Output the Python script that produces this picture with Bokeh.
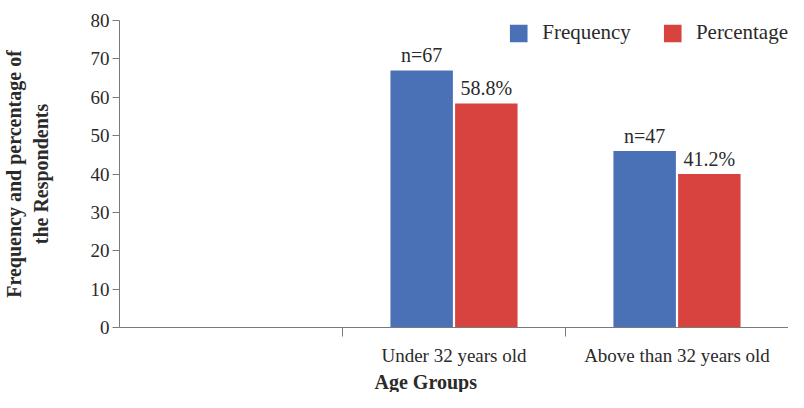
from bokeh.plotting import figure
from bokeh.models import (ColumnDataSource, FixedTicker, LabelSet, Legend,
                          LegendItem, Title, Range1d)
from bokeh.transform import dodge
from bokeh.embed import file_html
from bokeh.resources import INLINE

# ---- data ----
categories = ["", "Under 32 years old", "Above than 32 years old"]
groups = ["Under 32 years old", "Above than 32 years old"]
frequency = [67, 46]
percentage = [58.4, 40]
frequency_labels = ["n=67", "n=47"]
percentage_labels = ["58.8%", "41.2%"]
y_ticks = [0, 10, 20, 30, 40, 50, 60, 70, 80]
series_names = ["Frequency", "Percentage"]
y_title = "Frequency and percentage of\nthe Respondents"
x_title = "Age Groups"

FONT = "Liberation Serif"
BLUE = "#4a70b6"
RED = "#d8423f"
TXT = "#2a2a2a"
AXC = "#7a7a7a"

centers = [categories.index(g) + 0.5 for g in groups]
src = ColumnDataSource(dict(x=centers, freq=frequency, pct=percentage,
                            flab=frequency_labels, plab=percentage_labels))

p = figure(width=788, height=392, x_range=Range1d(0, len(categories)),
           y_range=Range1d(y_ticks[0], y_ticks[-1]),
           output_backend="svg", toolbar_location=None,
           min_border_left=118, min_border_right=0,
           min_border_top=20, min_border_bottom=0)
p.outline_line_color = None
p.xgrid.visible = False
p.ygrid.visible = False
p.background_fill_color = "white"

bw = 0.28
off = 0.145
r1 = p.vbar(x=dodge("x", -off, range=p.x_range), top="freq", width=bw,
            source=src, fill_color=BLUE, line_color=None)
r2 = p.vbar(x=dodge("x", off, range=p.x_range), top="pct", width=bw,
            source=src, fill_color=RED, line_color=None)

p.add_layout(LabelSet(x=dodge("x", -off, range=p.x_range), y="freq", text="flab",
                      source=src, text_align="center", text_baseline="bottom",
                      y_offset=4, text_font=FONT, text_font_size="20px",
                      text_color=TXT))
p.add_layout(LabelSet(x=dodge("x", off, range=p.x_range), y="pct", text="plab",
                      source=src, text_align="center", text_baseline="bottom",
                      y_offset=4, text_font=FONT, text_font_size="20px",
                      text_color=TXT))

# axes
xa = p.xaxis[0]
xa.ticker = FixedTicker(ticks=centers,
                        minor_ticks=[float(i) for i in range(1, len(categories) + 1)])
xa.major_label_overrides = {c: g for c, g in zip(centers, groups)}
xa.major_tick_out = 0
xa.major_tick_in = 0
xa.minor_tick_out = 9
xa.minor_tick_in = 0
xa.minor_tick_line_color = AXC
xa.axis_line_color = AXC
xa.major_label_standoff = 8
xa.major_label_text_font = FONT
xa.major_label_text_font_size = "19px"
xa.major_label_text_color = TXT

ya = p.yaxis[0]
ya.ticker = FixedTicker(ticks=y_ticks)
ya.major_tick_out = 7
ya.major_tick_in = 0
ya.minor_tick_out = 0
ya.minor_tick_in = 0
ya.axis_line_color = AXC
ya.major_tick_line_color = AXC
ya.major_label_standoff = 3
ya.major_label_text_font = FONT
ya.major_label_text_font_size = "19px"
ya.major_label_text_color = TXT
ya.axis_label = y_title
ya.axis_label_text_font = FONT
ya.axis_label_text_font_size = "20px"
ya.axis_label_text_font_style = "bold"
ya.axis_label_text_color = TXT
ya.axis_label_standoff = 36

p.add_layout(Title(text=x_title, align="left", offset=255, standoff=0,
                   text_font=FONT, text_font_size="20px", text_font_style="bold",
                   text_color=TXT), "below")

legend = Legend(items=[LegendItem(label=series_names[0], renderers=[r1]),
                       LegendItem(label=series_names[1], renderers=[r2])],
                orientation="horizontal", location="top_right",
                glyph_width=22, glyph_height=22, label_standoff=13,
                spacing=30, padding=0, margin=0,
                border_line_alpha=0, background_fill_alpha=0,
                label_text_font=FONT, label_text_font_size="21px",
                label_text_color=TXT)
p.add_layout(legend)

open("out.html", "w").write(file_html(p, INLINE))
